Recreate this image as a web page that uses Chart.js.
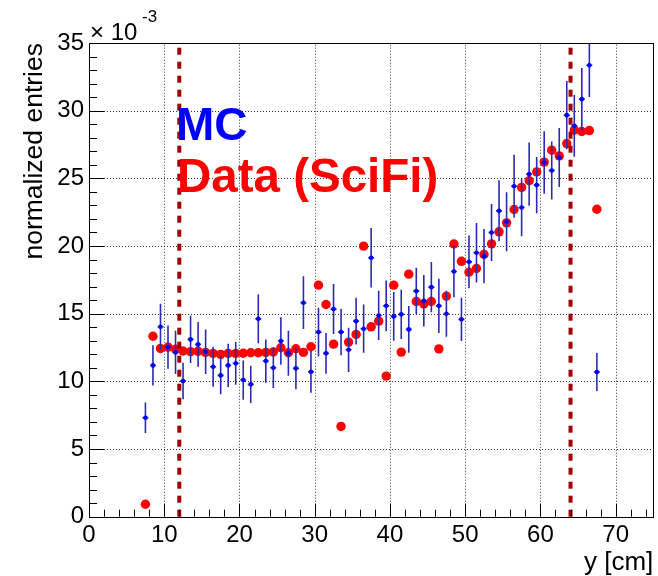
<!DOCTYPE html>
<html><head><meta charset="utf-8">
<script src="https://cdn.jsdelivr.net/npm/chart.js@4"></script>
<style>html,body{margin:0;padding:0;background:#fff;} #wrap{width:658px;height:576px;}</style>
</head><body><div id="wrap"><canvas id="c" width="658" height="576"></canvas></div>
<script>
// ---- data (values in units of 1e-3) ----
const binCenters = [7.5,8.5,9.5,10.5,11.5,12.5,13.5,14.5,15.5,16.5,17.5,18.5,19.5,20.5,21.5,22.5,23.5,24.5,25.5,26.5,27.5,28.5,29.5,30.5,31.5,32.5,33.5,34.5,35.5,36.5,37.5,38.5,39.5,40.5,41.5,42.5,43.5,44.5,45.5,46.5,47.5,48.5,49.5,50.5,51.5,52.5,53.5,54.5,55.5,56.5,57.5,58.5,59.5,60.5,61.5,62.5,63.5,64.5,65.5,66.5,67.5];
const mcValues = [7.31,11.18,14.03,12.53,12.14,10.02,13.10,12.73,12.19,11.08,10.44,11.18,11.33,10.10,9.78,14.62,11.50,11.00,12.98,12.07,10.96,15.81,10.71,13.64,12.07,15.34,13.64,12.33,14.45,13.89,19.13,14.87,15.58,14.80,14.95,13.84,16.67,15.95,16.96,15.58,14.99,18.12,14.58,18.83,19.50,19.25,21.00,22.60,21.79,24.42,22.85,25.31,24.50,26.17,25.58,26.54,29.67,28.88,30.85,33.36,10.69];
const mcErrors = [1.13,1.48,1.70,1.60,1.60,1.35,1.75,1.65,1.65,1.48,1.40,1.60,1.58,1.45,1.38,1.80,1.60,1.50,1.75,1.66,1.55,1.95,1.55,1.80,1.50,1.85,1.72,1.64,1.72,1.78,2.20,1.82,1.88,1.80,1.82,1.72,1.72,1.90,1.85,2.00,1.70,1.90,1.60,1.95,2.20,2.00,2.10,2.25,2.18,2.33,2.13,2.33,2.08,2.31,2.15,2.18,2.52,2.28,2.31,2.35,1.40];
const dataValues = [0.92,13.33,12.43,12.53,12.37,12.24,12.20,12.22,12.14,12.07,11.99,12.07,12.07,12.08,12.11,12.11,12.14,12.18,12.48,12.11,12.41,12.14,12.56,17.11,15.68,12.75,6.67,12.90,13.47,19.99,14.03,14.45,10.39,17.11,12.16,17.92,15.90,15.73,15.90,12.40,16.30,20.15,18.87,18.07,18.34,19.38,20.16,21.05,21.71,22.70,24.33,24.82,25.48,26.20,27.08,26.66,27.57,28.56,28.46,28.53,22.72];
const cutPositions = [12, 64];
const xTickValues = [0,10,20,30,40,50,60,70];
const yTickValues = [0,5,10,15,20,25,30,35];
const xRange = [0, 75];
const yRange = [0, 35];
const legendLabels = ['MC', 'Data (SciFi)'];
const xTitle = 'y [cm]';
const yTitle = 'normalized entries';

const FONT = "'Liberation Sans', Arial, Helvetica, sans-serif";

// error bar segments for MC
const errPts = [];
binCenters.forEach((xc, i) => {
  errPts.push({x: xc, y: mcValues[i] - mcErrors[i]}, {x: xc, y: mcValues[i] + mcErrors[i]}, {x: xc, y: null});
  errPts.push({x: xc - 0.4, y: mcValues[i]}, {x: xc + 0.4, y: mcValues[i]}, {x: xc, y: null});
});

const cutDatasets = cutPositions.map(c => ({
  type: 'line',
  data: [{x: c, y: yRange[0]}, {x: c, y: yRange[1]}],
  borderColor: '#a00000', borderWidth: 4, borderDash: [7, 7],
  pointRadius: 0, order: 0, clip: false
}));

const rootAxes = {
  id: 'rootAxes',
  beforeDatasetsDraw(chart) {
    const {ctx, chartArea: a, scales: {x, y}} = chart;
    ctx.save();
    ctx.strokeStyle = 'rgba(0,0,0,0.8)';
    ctx.lineWidth = 1;
    ctx.setLineDash([1, 2]);
    xTickValues.forEach(v => {
      if (v <= xRange[0] || v >= xRange[1]) return;
      const px = Math.round(x.getPixelForValue(v)) + 0.5;
      ctx.beginPath(); ctx.moveTo(px, a.bottom); ctx.lineTo(px, a.top); ctx.stroke();
    });
    yTickValues.forEach(v => {
      if (v <= yRange[0] || v >= yRange[1]) return;
      const py = Math.round(y.getPixelForValue(v)) + 0.5;
      ctx.beginPath(); ctx.moveTo(a.left, py); ctx.lineTo(a.right, py); ctx.stroke();
    });
    ctx.restore();
  },
  afterDatasetsDraw(chart) {
    const {ctx, chartArea: a, scales: {x, y}} = chart;
    ctx.save();
    ctx.setLineDash([]);
    ctx.strokeStyle = '#000';
    ctx.lineWidth = 1;
    // ticks
    for (let v = xRange[0]; v <= xRange[1]; v += 2) {
      const px = Math.round(x.getPixelForValue(v)) + 0.5;
      const len = (v % 10 === 0) ? 13 : 7;
      ctx.beginPath(); ctx.moveTo(px, a.bottom); ctx.lineTo(px, a.bottom - len); ctx.stroke();
    }
    for (let v = yRange[0]; v <= yRange[1]; v += 1) {
      const py = Math.round(y.getPixelForValue(v)) + 0.5;
      const len = (v % 5 === 0) ? 15 : 8;
      ctx.beginPath(); ctx.moveTo(a.left, py); ctx.lineTo(a.left + len, py); ctx.stroke();
    }
    // frame
    ctx.strokeRect(Math.round(a.left) + 0.5, Math.round(a.top) + 0.5, Math.round(a.right - a.left), Math.round(a.bottom - a.top));
    // exponent
    ctx.fillStyle = '#000';
    ctx.textBaseline = 'alphabetic';
    ctx.textAlign = 'left';
    ctx.font = '24px ' + FONT;
    ctx.fillText('\u00d7 10', 90, 40);
    ctx.font = '17px ' + FONT;
    ctx.fillText('-3', 142, 22);
    // legend texts
    ctx.font = 'bold 46px ' + FONT;
    ctx.fillStyle = '#0000ff';
    ctx.fillText(legendLabels[0], 176, 140);
    ctx.font = 'bold 47.5px ' + FONT;
    ctx.fillStyle = '#ff0000';
    ctx.fillText(legendLabels[1], 177, 192);
    ctx.restore();
  }
};

new Chart(document.getElementById('c'), {
  type: 'scatter',
  data: {
    datasets: [
      ...cutDatasets,
      {
        type: 'scatter',
        data: binCenters.map((xc, i) => ({x: xc, y: mcValues[i]})),
        pointRadius: 2.3, pointBackgroundColor: '#0000ff', pointBorderWidth: 0,
        order: 1
      },
      {
        type: 'line',
        data: errPts,
        borderColor: '#2a2ab4', borderWidth: 1.6, pointRadius: 0, spanGaps: false,
        order: 2
      },
      {
        type: 'scatter',
        data: binCenters.map((xc, i) => ({x: xc, y: dataValues[i]})),
        pointRadius: 4.7, pointBackgroundColor: '#ff0000', pointBorderWidth: 0,
        order: 3
      }
    ]
  },
  options: {
    responsive: false,
    animation: false,
    events: [],
    layout: {padding: {top: 43, right: 4, left: 0, bottom: 0}},
    plugins: {legend: {display: false}, tooltip: {enabled: false}},
    scales: {
      x: {
        type: 'linear', min: xRange[0], max: xRange[1],
        grid: {display: false, drawTicks: false},
        border: {display: false},
        afterBuildTicks: s => { s.ticks = xTickValues.map(v => ({value: v})); },
        afterFit: s => { s.height = 59.3; },
        ticks: {
          color: '#000', padding: 4, maxRotation: 0, autoSkip: false,
          font: {family: FONT, size: 24},
          callback: v => String(v)
        },
        title: {
          display: true, text: xTitle, align: 'end', color: '#000',
          font: {family: FONT, size: 26, lineHeight: 1},
          padding: {top: 0, bottom: 0}
        }
      },
      y: {
        type: 'linear', min: yRange[0], max: yRange[1],
        grid: {display: false, drawTicks: false},
        border: {display: false},
        afterBuildTicks: s => { s.ticks = yTickValues.map(v => ({value: v})); },
        afterFit: s => { s.width = 89; },
        ticks: {
          color: '#000', padding: 5, autoSkip: false,
          font: {family: FONT, size: 24},
          callback: v => String(v)
        },
        title: {
          display: true, text: yTitle, align: 'end', color: '#000',
          font: {family: FONT, size: 26.5, lineHeight: 1},
          padding: {top: 21, bottom: 0}
        }
      }
    }
  },
  plugins: [rootAxes]
});
</script>
</body></html>
